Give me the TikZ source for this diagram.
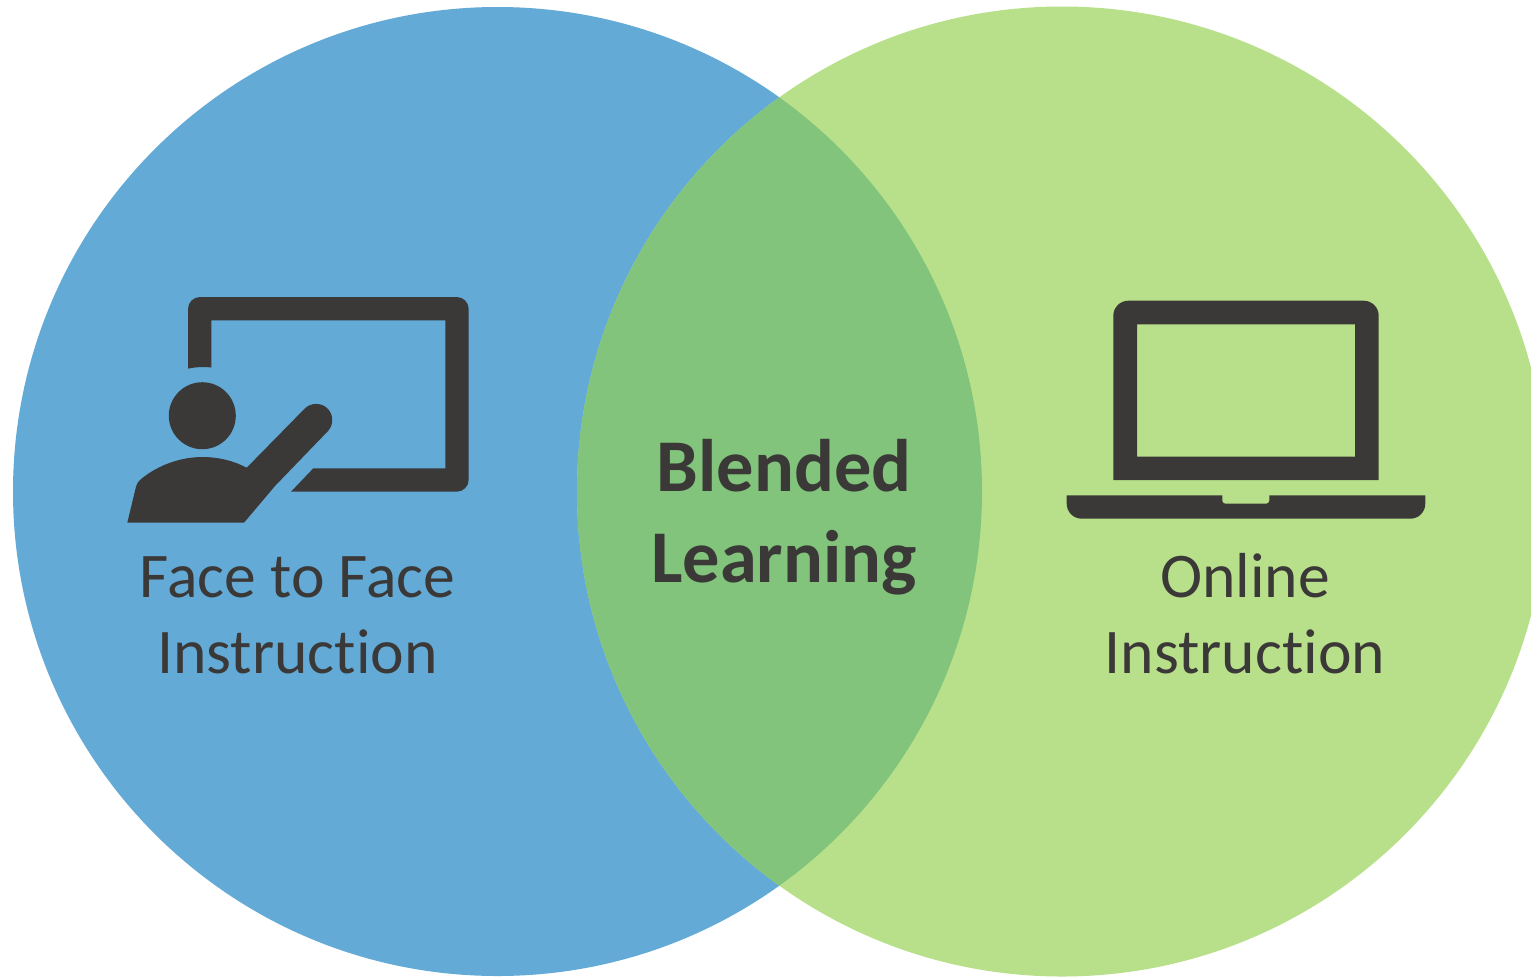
\documentclass[tikz,border=0pt]{standalone}
\usepackage{fontspec}
\setmainfont{Carlito}[Ligatures=NoCommon]
\definecolor{blueC}{HTML}{63AAD7}
\definecolor{greenC}{HTML}{B8E08A}
\definecolor{overlapC}{HTML}{82C47C}
\definecolor{iconC}{HTML}{3B3938}
\tikzset{
  label text/.style={text=iconC,align=center,font=\fontsize{31.8}{38}\selectfont,inner sep=0pt},
  title text/.style={text=iconC,align=center,font=\fontsize{37.2}{45.5}\selectfont\bfseries,inner sep=0pt},
  icon/.style={fill=iconC,draw=none}
}
\begin{document}
\begin{tikzpicture}[x=0.5pt,y=-0.5pt]
\useasboundingbox (0,0) rectangle (1531,976);
\begin{scope}
\clip (0,0) rectangle (1531,976);
\fill[blueC] (497.5,491.5) circle[radius=484.5];
\fill[greenC] (1062,491.5) circle[radius=485];
\begin{scope}
\clip (497.5,491.5) circle[radius=484.5];
\fill[overlapC] (1062,491.5) circle[radius=485];
\end{scope}
\end{scope}
% teacher icon: board
\fill[icon]
  (188,368.7) -- (188,309) .. controls (188,302.4) and (193.4,297) .. (200,297)
  -- (456.7,297) .. controls (463.3,297) and (468.7,302.4) .. (468.7,309)
  -- (468.7,479.7) .. controls (468.7,486.3) and (463.3,491.7) .. (456.7,491.7)
  -- (291,491.7) -- (313.3,468.3) -- (445.3,468.3)
  -- (445.3,320.3) -- (211.3,320.3) -- (211.3,367.5)
  .. controls (204,366.6) and (195,367) .. cycle;
% head
\fill[icon] (202.3,415.7) circle[radius=33.5];
% body and arm
\fill[icon] (127.3,522.7) -- (136,486.7) .. controls (136.6,484) and (138,482) .. (140,480)
  .. controls (155,467) and (178,457) .. (202.3,457)
  .. controls (218,457) and (233,460.5) .. (246.7,467.7)
  -- (305,408.3)
  .. controls (311,402.5) and (321,402.5) .. (327,408)
  .. controls (333.5,414) and (334,424) .. (328.3,430.7)
  -- (275,486) -- (244,522.7) -- cycle;
% laptop
\fill[icon,even odd rule]
  (1113.3,480) -- (1113.3,315.7) .. controls (1113.3,307.4) and (1120,300.7) .. (1128.3,300.7)
  -- (1363.7,300.7) .. controls (1372,300.7) and (1378.7,307.4) .. (1378.7,315.7)
  -- (1378.7,480) -- cycle
  (1137,324.3) rectangle (1355,456.7);
\fill[icon]
  (1066.7,495.3) -- (1222.3,495.3) -- (1222.3,500.7) .. controls (1222.3,502.4) and (1223.6,503.7) .. (1225.3,503.7)
  -- (1266.3,503.7) .. controls (1268,503.7) and (1269.3,502.4) .. (1269.3,500.7)
  -- (1269.3,495.3) -- (1425.3,495.3) -- (1425.3,503.7)
  .. controls (1425.3,512) and (1418.6,518.7) .. (1410.3,518.7)
  -- (1081.7,518.7) .. controls (1073.4,518.7) and (1066.7,512) .. (1066.7,503.7) -- cycle;
% labels
\node[label text] (f2f) at (297.5,615.5) {Face to Face\\Instruction};
\node[label text] (online) at (1245,614) {Online\\Instruction};
\node[title text] (blended) at (784,517) {Blended\\Learning};
\end{tikzpicture}
\end{document}
